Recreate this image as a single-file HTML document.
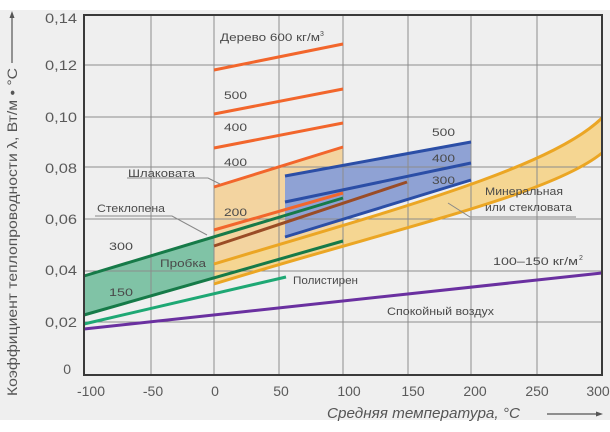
<!DOCTYPE html>
<html><head><meta charset="utf-8"><style>
html,body{margin:0;padding:0;background:#fff;}
svg{display:block;}
text{font-family:"Liberation Sans",sans-serif;}
</style></head><body>
<svg width="610" height="432" viewBox="0 0 610 432" xmlns="http://www.w3.org/2000/svg">
<rect x="0" y="0" width="610" height="432" fill="#ffffff"/>
<rect x="0" y="10" width="610" height="410" fill="#efefef"/>

<!-- fills -->
<polygon points="214,187 343,147 343,226 214,264" fill="#f3d4a0"/>
<path d="M214,264 C400,208 550,168 602,118 L602,153 C550,195 400,227 214,284 Z" fill="#f5d692"/>
<polygon points="84,276 214,237 214,278 84,315" fill="#80c3a6"/>
<polygon points="285,176 471,142 471,180 285,237" fill="#8fa2d4"/>

<!-- grid -->
<g stroke="#8c8c8c" stroke-width="1">
<line x1="151" y1="15" x2="151" y2="375"/>
<line x1="214" y1="15" x2="214" y2="375"/>
<line x1="279" y1="15" x2="279" y2="375"/>
<line x1="343" y1="15" x2="343" y2="375"/>
<line x1="408" y1="15" x2="408" y2="375"/>
<line x1="471" y1="15" x2="471" y2="375"/>
<line x1="537" y1="15" x2="537" y2="375"/>
<line x1="84" y1="65" x2="602" y2="65"/>
<line x1="84" y1="117" x2="602" y2="117"/>
<line x1="84" y1="167" x2="602" y2="167"/>
<line x1="84" y1="219" x2="602" y2="219"/>
<line x1="84" y1="271" x2="602" y2="271"/>
<line x1="84" y1="322" x2="602" y2="322"/>
</g>

<!-- lines -->
<g stroke-width="3" fill="none" stroke-linecap="butt">
<path d="M214,264 C400,208 550,168 602,118" stroke="#eba624"/>
<path d="M214,284 C400,227 550,195 602,153" stroke="#eba624"/>
<line x1="84" y1="329" x2="602" y2="273" stroke="#6a30a0"/>
<line x1="84" y1="324" x2="286" y2="277" stroke="#1ea874"/>
<line x1="84" y1="315" x2="343" y2="241" stroke="#167a48"/>
<line x1="214" y1="246" x2="407" y2="182" stroke="#9a4c26"/>
<line x1="84" y1="276" x2="343" y2="198" stroke="#167a48"/>
<line x1="214" y1="230" x2="343" y2="193" stroke="#f2662c"/>
<line x1="285" y1="237" x2="471" y2="180" stroke="#2b4ea6"/>
<line x1="285" y1="202" x2="471" y2="163" stroke="#2b4ea6"/>
<line x1="285" y1="176" x2="471" y2="142" stroke="#2b4ea6"/>
<line x1="214" y1="187" x2="343" y2="147" stroke="#f2662c"/>
<line x1="214" y1="148" x2="343" y2="123" stroke="#f2662c"/>
<line x1="214" y1="114" x2="343" y2="89" stroke="#f2662c"/>
<line x1="214" y1="70" x2="343" y2="44" stroke="#f2662c"/>
</g>

<!-- frame -->
<rect x="84" y="15" width="518" height="360" fill="none" stroke="#3a3a3a" stroke-width="2"/>

<!-- leader lines -->
<g stroke="#888" stroke-width="1" fill="none">
<polyline points="127,178 208,178 220,184"/>
<polyline points="95,216 172,216 207,235"/>
<polyline points="448,203 470,217 576,217"/>
</g>

<!-- in-plot labels -->
<g fill="#4a4a4a" font-size="11">
<text x="220" y="41" textLength="100" lengthAdjust="spacingAndGlyphs">Дерево 600 кг/м</text>
<text x="320" y="36" font-size="7">3</text>
<text x="224" y="99" textLength="23" lengthAdjust="spacingAndGlyphs">500</text>
<text x="224" y="131" textLength="23" lengthAdjust="spacingAndGlyphs">400</text>
<text x="224" y="166" textLength="23" lengthAdjust="spacingAndGlyphs">400</text>
<text x="224" y="216" textLength="23" lengthAdjust="spacingAndGlyphs">200</text>
<text x="128" y="177" textLength="67" lengthAdjust="spacingAndGlyphs">Шлаковата</text>
<text x="97" y="212" textLength="68" lengthAdjust="spacingAndGlyphs">Стеклопена</text>
<text x="109" y="250" textLength="24" lengthAdjust="spacingAndGlyphs">300</text>
<text x="160" y="267" textLength="46" lengthAdjust="spacingAndGlyphs">Пробка</text>
<text x="109" y="296" textLength="24" lengthAdjust="spacingAndGlyphs">150</text>
<text x="293" y="284" textLength="65" lengthAdjust="spacingAndGlyphs">Полистирен</text>
<text x="432" y="136" textLength="23" lengthAdjust="spacingAndGlyphs">500</text>
<text x="432" y="162" textLength="23" lengthAdjust="spacingAndGlyphs">400</text>
<text x="432" y="184" textLength="23" lengthAdjust="spacingAndGlyphs">300</text>
<text x="485" y="195" textLength="78" lengthAdjust="spacingAndGlyphs">Минеральная</text>
<text x="485" y="211" textLength="87" lengthAdjust="spacingAndGlyphs">или стекловата</text>
<text x="493" y="265" textLength="85" lengthAdjust="spacingAndGlyphs">100–150 кг/м</text>
<text x="579" y="260" font-size="7">2</text>
<text x="387" y="315" textLength="107" lengthAdjust="spacingAndGlyphs">Спокойный воздух</text>
</g>

<!-- y tick labels -->
<g fill="#5a5a5a" font-size="14" text-anchor="end">
<text x="77" y="23" textLength="32" lengthAdjust="spacingAndGlyphs">0,14</text>
<text x="77" y="70" textLength="32" lengthAdjust="spacingAndGlyphs">0,12</text>
<text x="77" y="122" textLength="32" lengthAdjust="spacingAndGlyphs">0,10</text>
<text x="77" y="173" textLength="32" lengthAdjust="spacingAndGlyphs">0,08</text>
<text x="77" y="224" textLength="32" lengthAdjust="spacingAndGlyphs">0,06</text>
<text x="77" y="275" textLength="32" lengthAdjust="spacingAndGlyphs">0,04</text>
<text x="77" y="327" textLength="32" lengthAdjust="spacingAndGlyphs">0,02</text>
<text x="71" y="374">0</text>
</g>

<!-- x tick labels -->
<g fill="#5a5a5a" font-size="14" text-anchor="middle">
<text x="91" y="396">-100</text>
<text x="153" y="396">-50</text>
<text x="215" y="396">0</text>
<text x="281" y="396">50</text>
<text x="349" y="396">100</text>
<text x="413" y="396">150</text>
<text x="475" y="396">200</text>
<text x="537" y="396">250</text>
<text x="598" y="396">300</text>
</g>

<!-- x axis title -->
<text x="327" y="418" fill="#555" font-size="15" font-style="italic" textLength="193" lengthAdjust="spacingAndGlyphs">Средняя температура, °С</text>
<line x1="547" y1="414" x2="598" y2="414" stroke="#555" stroke-width="1.2"/>
<polygon points="603,414 596,411.5 596,416.5" fill="#555"/>

<!-- y axis title -->
<text transform="translate(17,396) rotate(-90)" x="0" y="0" fill="#555" font-size="14" textLength="328" lengthAdjust="spacingAndGlyphs">Коэффициент теплопроводности λ, Вт/м • °С</text>
<line x1="12" y1="63" x2="12" y2="17" stroke="#555" stroke-width="1.2"/>
<polygon points="12,11 9.5,18 14.5,18" fill="#555"/>
</svg>
</body></html>
